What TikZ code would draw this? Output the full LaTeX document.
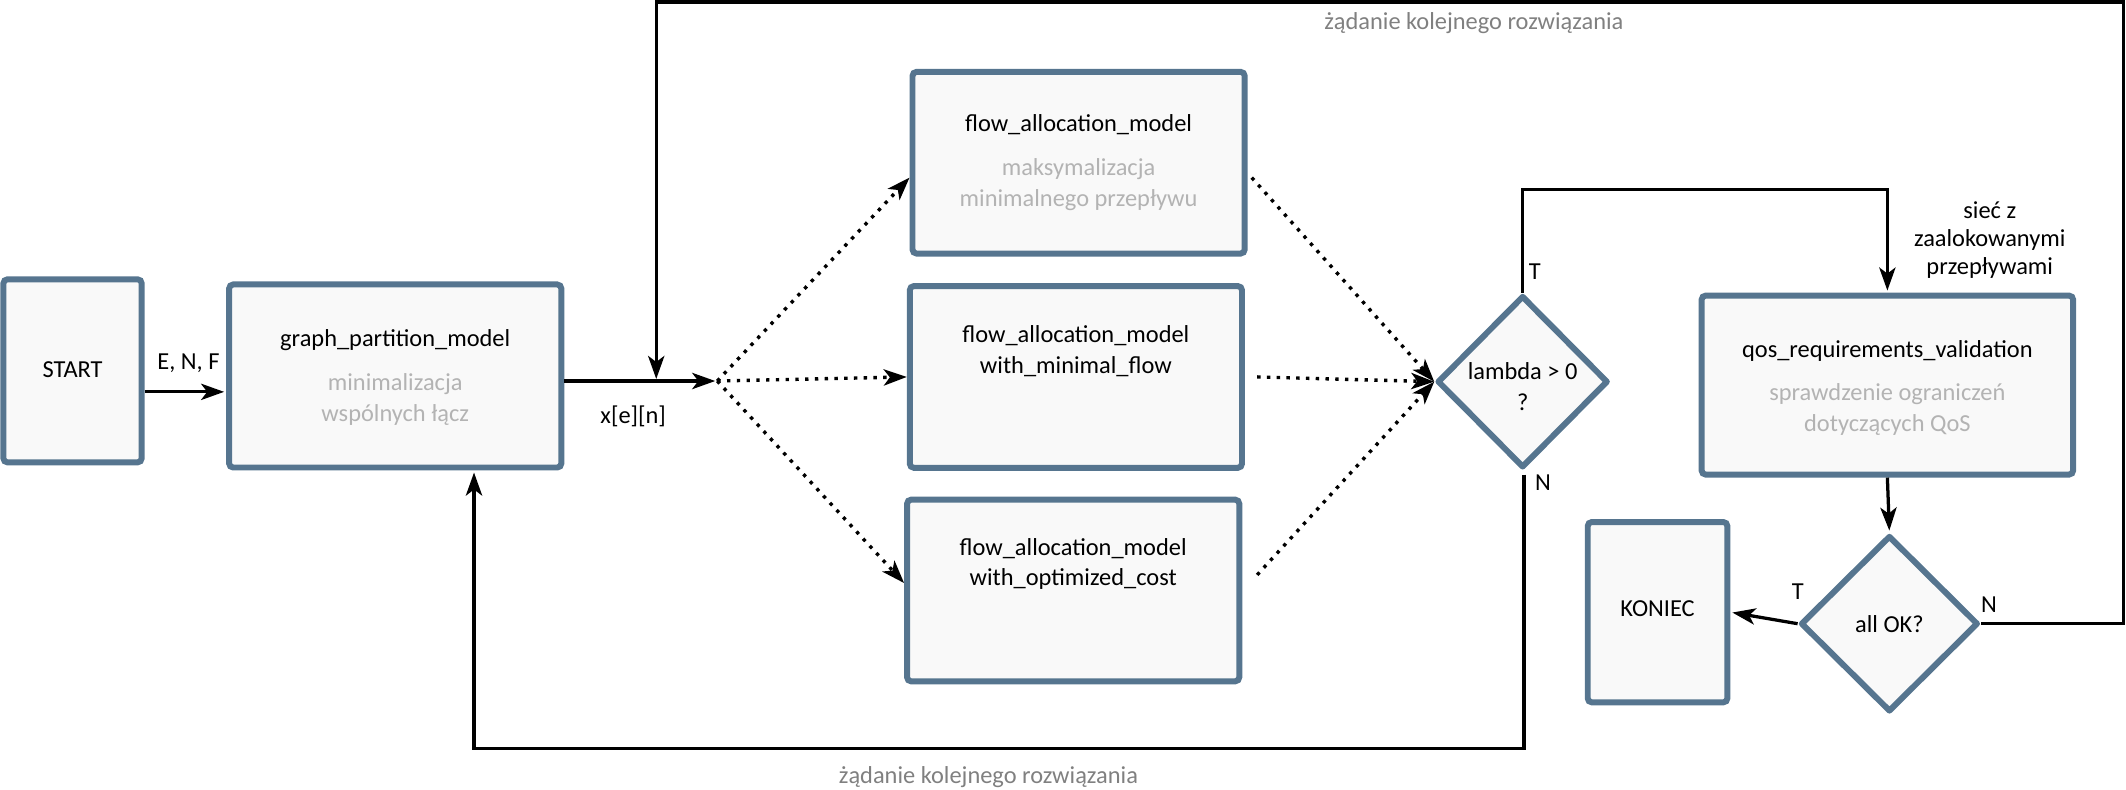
\documentclass[tikz,border=0pt]{standalone}
\usepackage{fontspec}
\setmainfont{Carlito}
\usetikzlibrary{arrows.meta,shapes.geometric,calc}
\definecolor{boxblue}{HTML}{56758F}
\definecolor{boxfill}{HTML}{F9F9F9}
\definecolor{lighttext}{HTML}{B3B3B3}
\definecolor{edgetext}{HTML}{808080}
\begin{document}
\begin{tikzpicture}[x=1pt,y=-1pt,
  box/.style={draw=boxblue, fill=boxfill, line width=4.4pt, rounded corners=3pt, inner sep=0pt},
  dec/.style={diamond, draw=boxblue, fill=boxfill, line width=4.4pt, line join=round, inner sep=0pt},
  txt/.style={font=\fontsize{18pt}{22.5pt}\selectfont, align=center, inner sep=0pt, text=black},
  gtxt/.style={txt, text=lighttext, font=\fontsize{18pt}{23pt}\selectfont},
  etxt/.style={txt, text=edgetext},
  conn/.style={line width=2.4pt, -{Stealth[length=17pt,width=12pt,inset=4.5pt]}, shorten >=1.5pt},
  dconn/.style={line width=2.5pt, dash pattern=on 2.5pt off 4.7pt, -{Stealth[length=17pt,width=12pt,inset=4.5pt]}}
]
\useasboundingbox (0,0) rectangle (1568,582);

% boxes
\node[box, minimum width=102pt, minimum height=135pt] (start) at (53.5,273.5) {};
\node[box, minimum width=245pt, minimum height=135pt] (graph) at (291.5,277.3) {};
\node[box, minimum width=245pt, minimum height=134pt] (f1) at (795.5,120) {};
\node[box, minimum width=245pt, minimum height=134pt] (f2) at (793.5,278) {};
\node[box, minimum width=245pt, minimum height=134pt] (f3) at (791.5,435.5) {};
\node[dec, minimum width=126pt, minimum height=127pt] (lam) at (1123,281.5) {};
\node[box, minimum width=274pt, minimum height=132pt] (qos) at (1392,284) {};
\node[dec, minimum width=131pt, minimum height=130pt] (ok) at (1393.5,460) {};
\node[box, minimum width=103pt, minimum height=133pt] (kon) at (1222.5,451.5) {};

% texts in boxes
\node[txt] (startT) at (53.5,273) {START};
\node[txt] (graphT) at (291.5,250.5) {graph\_partition\_model};
\node[gtxt] (graphG) at (291.5,294.5) {minimalizacja\\wspólnych łącz};
\node[txt] (f1T) at (795.5,92) {flow\_allocation\_model};
\node[gtxt] (f1G) at (795.5,136) {maksymalizacja\\minimalnego przepływu};
\node[txt] (f2T) at (793.5,259) {flow\_allocation\_model\\with\_minimal\_flow};
\node[txt] (f3T) at (791.5,416) {flow\_allocation\_model\\with\_optimized\_cost};
\node[txt] (lamT) at (1123,285) {lambda > 0\\?};
\node[txt] (qosT) at (1392,259) {qos\_requirements\_validation};
\node[gtxt] (qosG) at (1392,302) {sprawdzenie ograniczeń\\dotyczących QoS};
\node[txt] (okT) at (1393.5,460) {all OK?};
\node[txt] (konT) at (1222.5,449) {KONIEC};

% labels
\node[txt] (enf) at (139,268) {E, N, F};
\node[txt] (xen) at (467,307) {x[e][n]};
\node[txt] (lamTl) at (1132,200) {T};
\node[txt] (lamNl) at (1138,356) {N};
\node[txt, font=\fontsize{18pt}{20.5pt}\selectfont] (siec) at (1467.5,177) {sieć z\\zaalokowanymi\\przepływami};
\node[txt] (okTl) at (1326,436) {T};
\node[txt] (okNl) at (1467,446) {N};
\node[etxt] (req1) at (1087,17) {żądanie kolejnego rozwiązania};
\node[etxt] (req2) at (729,573) {żądanie kolejnego rozwiązania};

% coordinates
\coordinate (split) at (529,281);
\coordinate (a1) at (0,289);
\coordinate (tr) at (1566,1.5);
\coordinate (tl) at (484,1.5);
\coordinate (nstart) at (1124,350);
\coordinate (bl) at (349.6,552);
\coordinate (f1y) at (0,131);
\coordinate (f2y) at (0,278);
\coordinate (f3y) at (0,430);
\coordinate (f3y2) at (0,424);

% solid connectors
\draw[conn] (start.east |- a1) -- (graph.west |- a1);
\draw[conn] (graph.east |- split) -- (split);
\draw[conn] (ok.east) -| (tr) -- (tl) -- (tl |- split);
\draw[conn] (lam.north) -- ++(0,-76) -| (qos.north);
\draw[conn] (nstart) |- (bl) -- (bl |- graph.south);
\draw[conn] (qos.south) -- (ok.north);
\draw[conn] (ok.west) -- (kon.east);

% dotted connectors
\draw[dconn] (split) -- (f1.west |- f1y);
\draw[dconn] (split) -- (f2.west);
\draw[dconn] (split) -- (f3.west |- f3y);
\draw[dconn] ($(f1.east |- f1y)+(3,0)$) -- (lam.west);
\draw[dconn] ($(f2.east |- f2y)+(9,0)$) -- (lam.west);
\draw[dconn] ($(f3.east |- f3y2)+(11,0)$) -- (lam.west);
\end{tikzpicture}
\end{document}
